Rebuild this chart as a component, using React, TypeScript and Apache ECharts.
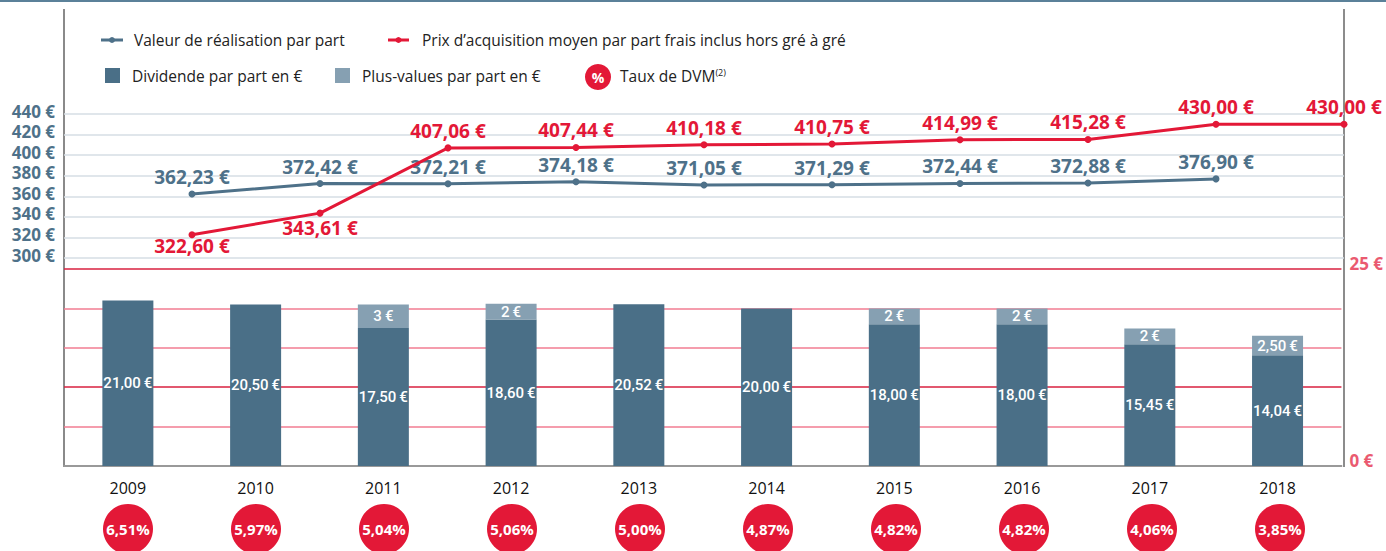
import React, { useEffect, useRef } from "react";
import * as echarts from "echarts";

const years = ["2009", "2010", "2011", "2012", "2013", "2014", "2015", "2016", "2017", "2018"];
const valeurRealisation: (number | null)[] = [362.23, 372.42, 372.21, 374.18, 371.05, 371.29, 372.44, 372.88, 376.9, null];
const prixAcquisition: number[] = [322.6, 343.61, 407.06, 407.44, 410.18, 410.75, 414.99, 415.28, 430.0, 430.0];
const dividende: number[] = [21.0, 20.5, 17.5, 18.6, 20.52, 20.0, 18.0, 18.0, 15.45, 14.04];
const plusValues: (number | null)[] = [null, null, 3, 2, null, null, 2, 2, 2, 2.5];
const tauxDVM: number[] = [6.51, 5.97, 5.04, 5.06, 5.0, 4.87, 4.82, 4.82, 4.06, 3.85];
const leftTicks = { min: 300, max: 440, step: 20 };
const rightTicks = { min: 0, max: 25, step: 5 };
const redBelow = [0, 1];

const BLUE = "#4e7189";
const RED = "#e31837";
const DARK = "#4a6f87";
const LIGHT = "#86a0b2";
const FONT = "'Open Sans', 'Noto Sans', sans-serif";
const NARROW = "Roboto, 'Open Sans', sans-serif";
const THIN = "\u2009";

const fr = (v: number, d = 2) => v.toFixed(d).replace(".", ",");

export default function App() {
  const ref = useRef<HTMLDivElement>(null);
  useEffect(() => {
    if (!ref.current) return;
    const chart = echarts.init(ref.current, null, { renderer: "svg" });
    const lineCats = ["", ...years];
    const lineLabel = (color: string) => ({
      show: true,
      position: "top",
      distance: 4,
      color,
      fontFamily: FONT,
      fontWeight: "bold",
      fontSize: 19,
      formatter: (p: any) => fr(p.value) + " €",
    });
    const blueData = ["-", ...valeurRealisation.map((v) => (v == null ? "-" : v))];
    const redData: any[] = ["-", ...prixAcquisition.map((v, i) =>
      redBelow.includes(i)
        ? { value: v, label: { position: "bottom", distance: i === 0 ? -2 : 2 } }
        : v
    )];
    const legendFont = `15.5px ${FONT}`;

    chart.setOption({
      animation: false,
      textStyle: { fontFamily: FONT },
      grid: [
        { left: 64, top: 114, width: 1280, height: 144 },
        { left: 64, top: 269, width: 1280, height: 197 },
        { left: 64, top: 507, width: 1280, height: 50 },
      ],
      xAxis: [
        { gridIndex: 0, type: "category", data: lineCats, boundaryGap: false, show: false },
        {
          gridIndex: 1,
          type: "category",
          data: years,
          axisLine: { lineStyle: { color: "#999", width: 2 } },
          axisTick: { inside: true, length: 7, lineStyle: { color: "#999", width: 1.5 } },
          axisLabel: { color: "#111", fontSize: 16, fontFamily: FONT, margin: 14 },
        },
        { gridIndex: 2, type: "category", data: years, show: false },
      ],
      yAxis: [
        {
          gridIndex: 0,
          type: "value",
          min: leftTicks.min,
          max: leftTicks.max,
          interval: leftTicks.step,
          axisLine: { show: false },
          axisTick: { show: false },
          axisLabel: {
            color: BLUE,
            fontWeight: "bold",
            fontSize: 17,
            fontFamily: FONT,
            margin: 9,
            verticalAlign: "bottom",
            lineHeight: 6,
            formatter: "{value} €",
          },
          splitLine: { lineStyle: { color: "#d6dee4", width: 1.5 } },
        },
        {
          gridIndex: 1,
          type: "value",
          position: "right",
          min: rightTicks.min,
          max: rightTicks.max,
          interval: rightTicks.step,
          axisLine: { show: false },
          axisTick: { show: false },
          axisLabel: {
            color: "#ea5a70",
            fontWeight: "bold",
            fontSize: 17,
            fontFamily: FONT,
            margin: 8,
            verticalAlign: "bottom",
            lineHeight: 12,
            formatter: (v: number) => (v === rightTicks.min || v === rightTicks.max ? `${v} €` : ""),
          },
          splitLine: {
            lineStyle: {
              color: ["#d9203f", "#f27d92", "#d9203f", "#f27d92", "#f27d92", "#d9203f"],
              width: 1.5,
            },
          },
        },
        { gridIndex: 2, type: "value", min: 0, max: 1, show: false },
      ],
      series: [
        {
          name: "Valeur de réalisation par part",
          type: "line",
          xAxisIndex: 0,
          yAxisIndex: 0,
          data: blueData,
          symbol: "circle",
          symbolSize: 7,
          lineStyle: { color: BLUE, width: 3 },
          itemStyle: { color: BLUE },
          label: lineLabel(BLUE),
          z: 5,
        },
        {
          name: "Prix d'acquisition",
          type: "line",
          xAxisIndex: 0,
          yAxisIndex: 0,
          data: redData,
          symbol: "circle",
          symbolSize: 7,
          lineStyle: { color: RED, width: 3 },
          itemStyle: { color: RED },
          label: lineLabel(RED),
          z: 6,
        },
        {
          name: "Dividende",
          type: "bar",
          xAxisIndex: 1,
          yAxisIndex: 1,
          stack: "d",
          barWidth: 51,
          data: dividende,
          itemStyle: { color: DARK },
          label: {
            show: true,
            position: "inside",
            color: "#fff",
            fontFamily: NARROW,
            fontWeight: 500,
            fontSize: 15,
            formatter: (p: any) => fr(p.value) + THIN + "€",
          },
        },
        {
          name: "Plus-values",
          type: "bar",
          xAxisIndex: 1,
          yAxisIndex: 1,
          stack: "d",
          barWidth: 51,
          data: plusValues.map((v) => (v == null ? "-" : v)),
          itemStyle: { color: LIGHT },
          label: {
            show: true,
            position: "inside",
            color: "#fff",
            fontFamily: NARROW,
            fontWeight: 500,
            fontSize: 15,
            formatter: (p: any) =>
              (p.value % 1 === 0 ? `${p.value}` : fr(p.value)) + THIN + "€",
          },
        },
        {
          name: "Taux de DVM",
          type: "scatter",
          xAxisIndex: 2,
          yAxisIndex: 2,
          symbol: "circle",
          symbolSize: 50,
          data: tauxDVM.map((r, i) => [years[i], 0.5]),
          itemStyle: { color: RED, opacity: 1 },
          label: {
            show: true,
            position: "inside",
            color: "#fff",
            fontWeight: "bold",
            fontSize: 15,
            fontFamily: FONT,
            formatter: (p: any) => fr(tauxDVM[p.dataIndex]) + "%",
          },
        },
      ],
      graphic: [
        { type: "rect", shape: { x: 0, y: 0, width: 1386, height: 2 }, style: { fill: "#5b8199" } },
        { type: "line", shape: { x1: 64, y1: 9, x2: 64, y2: 467 }, style: { stroke: "#8a8a8a", lineWidth: 2 } },
        { type: "line", shape: { x1: 1344, y1: 9, x2: 1344, y2: 467 }, style: { stroke: "#666", lineWidth: 1.5 } },
        // legend row 1
        { type: "line", shape: { x1: 101, y1: 40, x2: 123, y2: 40 }, style: { stroke: BLUE, lineWidth: 3 } },
        { type: "circle", shape: { cx: 112, cy: 40, r: 3 }, style: { fill: BLUE } },
        {
          type: "text", x: 134, y: 40,
          style: { text: "Valeur de réalisation par part", fill: "#222", font: legendFont, verticalAlign: "middle" },
        },
        { type: "line", shape: { x1: 388, y1: 40, x2: 409, y2: 40 }, style: { stroke: RED, lineWidth: 3 } },
        { type: "circle", shape: { cx: 398.5, cy: 40, r: 3 }, style: { fill: RED } },
        {
          type: "text", x: 422, y: 40,
          style: { text: "Prix d’acquisition moyen par part frais inclus hors gré à gré", fill: "#222", font: legendFont, verticalAlign: "middle" },
        },
        // legend row 2
        { type: "rect", shape: { x: 105, y: 68, width: 15, height: 15 }, style: { fill: DARK } },
        {
          type: "text", x: 132, y: 76,
          style: { text: "Dividende par part en €", fill: "#222", font: legendFont, verticalAlign: "middle" },
        },
        { type: "rect", shape: { x: 335, y: 68, width: 15, height: 15 }, style: { fill: LIGHT } },
        {
          type: "text", x: 362, y: 76,
          style: { text: "Plus-values par part en €", fill: "#222", font: legendFont, verticalAlign: "middle" },
        },
        { type: "circle", shape: { cx: 598, cy: 77, r: 13 }, style: { fill: RED } },
        {
          type: "text", x: 598, y: 77,
          style: { text: "%", fill: "#fff", font: `bold 14px ${FONT}`, align: "center", verticalAlign: "middle" },
        },
        {
          type: "text", x: 620, y: 76,
          style: {
            text: "{a|Taux de DVM}{b|(2)}",
            verticalAlign: "middle",
            rich: {
              a: { fill: "#222", color: "#222", fontSize: 15.5, fontFamily: FONT },
              b: { fill: "#222", color: "#222", fontSize: 9, fontFamily: FONT, verticalAlign: "top", padding: [0, 0, 8, 0] },
            },
          },
        },
      ],
    });
    return () => chart.dispose();
  }, []);
  return (
    <div
      ref={ref}
      style={{ position: "absolute", left: 0, top: 0, width: 1386, height: 551, background: "#fff" }}
    />
  );
}
